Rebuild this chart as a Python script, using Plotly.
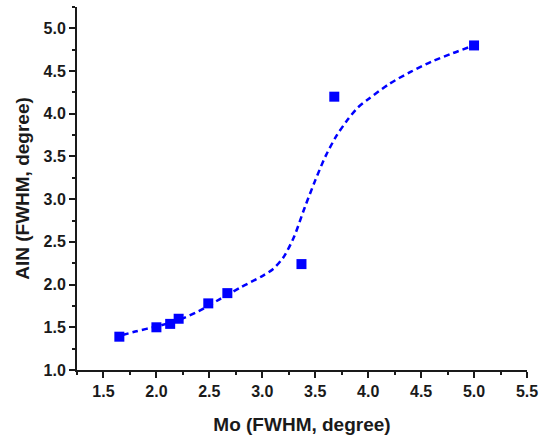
import plotly.graph_objects as go

# Measured FWHM values (degree)
mo_fwhm = [1.65, 2.00, 2.13, 2.21, 2.49, 2.67, 3.37, 3.68, 5.00]
aln_fwhm = [1.39, 1.50, 1.54, 1.60, 1.78, 1.90, 2.24, 4.20, 4.80]

# Fitted trend curve
fit_x = [1.68, 1.8, 2.0, 2.2, 2.4, 2.6, 2.8, 3.0, 3.1, 3.2, 3.3, 3.4, 3.5,
         3.6, 3.7, 3.8, 3.9, 4.0, 4.2, 4.4, 4.6, 4.8, 5.0]
fit_y = [1.41, 1.45, 1.51, 1.58, 1.69, 1.83, 1.97, 2.10, 2.18, 2.32, 2.56,
         2.90, 3.22, 3.51, 3.74, 3.92, 4.07, 4.17, 4.35, 4.49, 4.61, 4.71, 4.80]

x_ticks = [1.5, 2.0, 2.5, 3.0, 3.5, 4.0, 4.5, 5.0, 5.5]
y_ticks = [1.0, 1.5, 2.0, 2.5, 3.0, 3.5, 4.0, 4.5, 5.0]

BLUE = "#0000ff"
FONT = "Liberation Sans"
INK = "#1a1a1a"


def bold_labels(vals):
    return [f"<b>{v:.1f}</b>" for v in vals]


fig = go.Figure()
fig.add_trace(go.Scatter(
    x=fit_x, y=fit_y, mode="lines",
    line=dict(color=BLUE, width=2.5, dash="6px,4px", shape="spline", smoothing=0.8),
    hoverinfo="skip", showlegend=False,
))
fig.add_trace(go.Scatter(
    x=mo_fwhm, y=aln_fwhm, mode="markers",
    marker=dict(symbol="square", size=10, color=BLUE),
    showlegend=False,
))

axis_common = dict(
    showgrid=False, zeroline=False,
    showline=True, linecolor=INK, linewidth=2,
    ticks="outside", ticklen=6, tickwidth=1.5, tickcolor=INK,
    tickfont=dict(family=FONT, size=16, color=INK, weight=700),
    minor=dict(ticks="outside", ticklen=3, tickwidth=1.5, tickcolor=INK, dtick=0.25),
)

fig.update_xaxes(
    range=[1.25, 5.5], tickmode="array", tickvals=x_ticks, ticktext=bold_labels(x_ticks),
    title=dict(text="<b>Mo (FWHM, degree)</b>", standoff=18,
               font=dict(family=FONT, size=19, color=INK)),
    **axis_common,
)
fig.update_yaxes(
    range=[1.0, 5.25], tickmode="array", tickvals=y_ticks, ticktext=bold_labels(y_ticks),
    title=dict(text="<b>AlN (FWHM, degree)</b>", standoff=9,
               font=dict(family=FONT, size=19, color=INK)),
    **axis_common,
)

fig.update_layout(
    width=546, height=440,
    margin=dict(l=77, r=19, t=7, b=70),
    plot_bgcolor="white", paper_bgcolor="white",
)

fig.write_html("out.html")
